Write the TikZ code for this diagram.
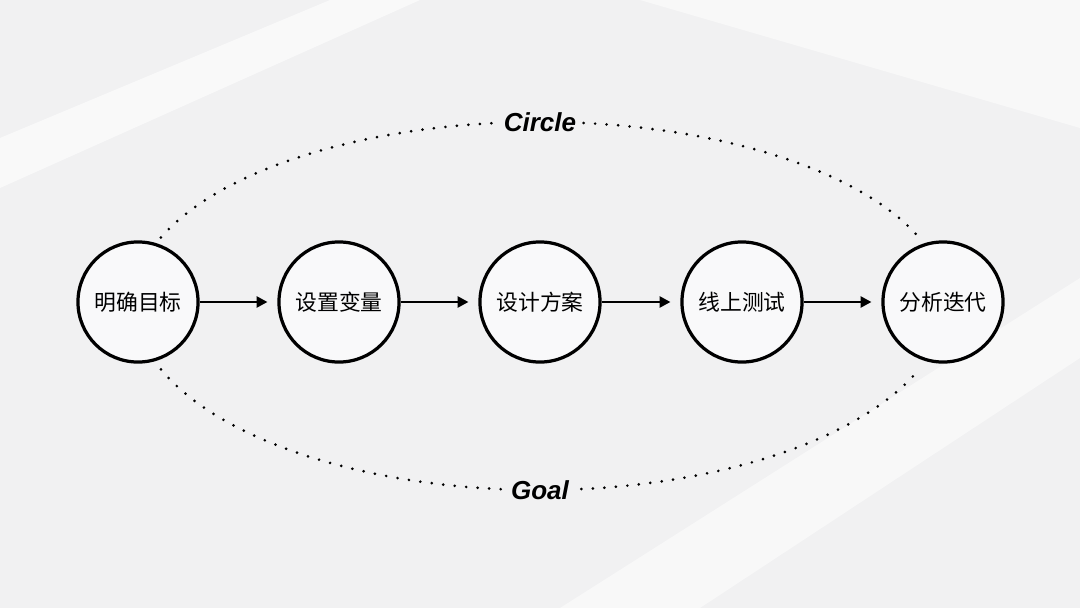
\documentclass[tikz,border=0pt]{standalone}
\usepackage{fontspec}
\setmainfont{Liberation Sans}
\newfontfamily\cjk{Noto Sans CJK SC}
\usetikzlibrary{arrows.meta, positioning, calc}
\definecolor{bggray}{HTML}{F1F1F2}
\tikzset{
    my-step/.style={
      draw, circle, line width=2.3pt, minimum size=85.4pt, inner sep=0pt,
      fill=white!60!bggray, font=\cjk\fontsize{15.5}{18}\selectfont
    },
    my-link/.style={
      line width=2.1pt, -{Triangle[length=7.8pt, width=7.8pt]}, shorten >=7pt
    },
    my-dots/.style={
      line width=2.1pt, line cap=round, dash pattern=on 0pt off 8.2pt
    },
    my-tag/.style={
      fill=bggray, inner sep=2pt, font=\bfseries\itshape\fontsize{18.5}{20}\selectfont
    },
}
\begin{document}
\begin{tikzpicture}[x=0.025cm, y=0.025cm]

        % BACKGROUND
        \fill[bggray] (0,0) rectangle (1080,608);
        \fill[white, opacity=.6] (0,470) -- (330,608) -- (420,608) -- (0,420) -- cycle;
        \fill[white, opacity=.5] (560,0) -- (1080,330) -- (1080,250) -- (700,0) -- cycle;
        \fill[white, opacity=.5] (640,608) -- (1080,480) -- (1080,608) -- cycle;
        \useasboundingbox (0,0) rectangle (1080,608);

        % STEPS
        \node[my-step] (GOAL)    at (138,306) {明确目标};
        \node[my-step] (VARS)    at (339,306) {设置变量};
        \node[my-step] (PLAN)    at (540,306) {设计方案};
        \node[my-step] (TEST)    at (742,306) {线上测试};
        \node[my-step] (ITER)    at (943,306) {分析迭代};

        % ARROWS
        \draw[my-link] (GOAL) -- (VARS);
        \draw[my-link] (VARS) -- (PLAN);
        \draw[my-link] (PLAN) -- (TEST);
        \draw[my-link] (TEST) -- (ITER);

        % DOTTED LOOP
        \coordinate (CTR) at (540,306);
        \draw[my-dots] ($(CTR) + (159:406 and 180)$) arc[start angle=159, end angle=21, x radius=406, y radius=180];
        \draw[my-dots] ($(CTR) + (201:406 and 188)$) arc[start angle=201, end angle=339, x radius=406, y radius=188];

        % LABELS
        \node[my-tag] (CIRCLE) at (540,486) {Circle};
        \node[my-tag] (GOALTAG) at (540,118) {Goal};

\end{tikzpicture}
\end{document}
